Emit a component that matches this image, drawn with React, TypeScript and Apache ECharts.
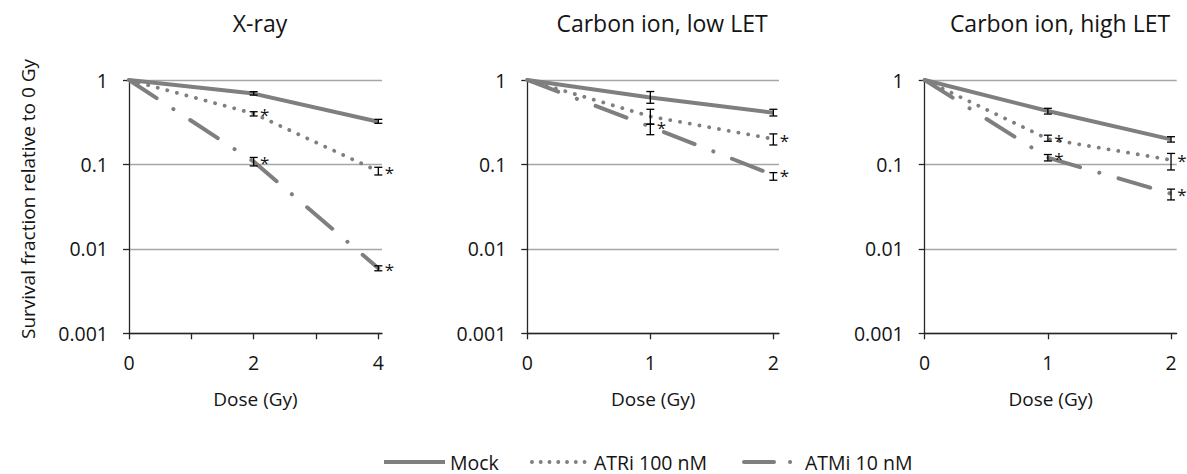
import React, { useEffect, useRef } from "react";
import * as echarts from "echarts";

// ---------- data ----------
const panelTitles = ["X-ray", "Carbon ion, low LET", "Carbon ion, high LET"];
const seriesNames = ["Mock", "ATRi 100 nM", "ATMi 10 nM"];
const yTickLabels = ["0.001", "0.01", "0.1", "1"];
const xAxisTitle = "Dose (Gy)";
const yAxisTitle = "Survival fraction relative to 0 Gy";

// X-ray
const xrayDoses = [0, 2, 4];
const xrayTicks = [0, 1, 2, 3, 4];
const xrayLabels = [0, 2, 4];
const xrayMock = [1, 0.69, 0.32];
const xrayMockLow = [null, 0.663, 0.307];
const xrayMockHigh = [null, 0.727, 0.342];
const xrayAtri = [1, 0.4, 0.083];
const xrayAtriLow = [null, 0.375, 0.075];
const xrayAtriHigh = [null, 0.421, 0.0925];
const xrayAtriSig = [false, true, true];
const xrayAtmi = [1, 0.108, 0.0059];
const xrayAtmiLow = [null, 0.096, 0.0055];
const xrayAtmiHigh = [null, 0.121, 0.0063];
const xrayAtmiSig = [false, true, true];

// Carbon ion, low LET
const lowDoses = [0, 1, 2];
const lowTicks = [0, 1, 2];
const lowLabels = [0, 1, 2];
const lowMock = [1, 0.62, 0.41];
const lowMockLow = [null, 0.53, 0.375];
const lowMockHigh = [null, 0.73, 0.45];
const lowAtri = [1, 0.37, 0.2];
const lowAtriLow = [null, 0.3, 0.17];
const lowAtriHigh = [null, 0.45, 0.23];
const lowAtriSig = [false, false, true];
const lowAtmi = [1, 0.28, 0.075];
const lowAtmiLow = [null, 0.225, 0.065];
const lowAtmiHigh = [null, 0.3, 0.08];
const lowAtmiSig = [false, true, true];

// Carbon ion, high LET
const highDoses = [0, 1, 2];
const highTicks = [0, 1, 2];
const highLabels = [0, 1, 2];
const highMock = [1, 0.43, 0.198];
const highMockLow = [null, 0.395, 0.184];
const highMockHigh = [null, 0.462, 0.213];
const highAtri = [1, 0.2, 0.113];
const highAtriLow = [null, 0.188, 0.086];
const highAtriHigh = [null, 0.222, 0.135];
const highAtriSig = [false, true, true];
const highAtmi = [1, 0.12, 0.045];
const highAtmiLow = [null, 0.11, 0.038];
const highAtmiHigh = [null, 0.131, 0.051];
const highAtmiSig = [false, true, true];

// ---------- layout / styles ----------
const FONT = "'Open Sans', 'Noto Sans', sans-serif";
const TEXT = "#141414";
const AXIS = "#262626";
const GRAY = "#7f7f7f";

const panels = [
  {
    title: panelTitles[0], titleX: 260,
    doses: xrayDoses, ticks: xrayTicks, labels: xrayLabels, xMax: 4.059,
    grid: { left: 129, top: 80, width: 253, height: 253.3 },
    series: [
      { v: xrayMock, lo: xrayMockLow, hi: xrayMockHigh, sig: null },
      { v: xrayAtri, lo: xrayAtriLow, hi: xrayAtriHigh, sig: xrayAtriSig },
      { v: xrayAtmi, lo: xrayAtmiLow, hi: xrayAtmiHigh, sig: xrayAtmiSig },
    ],
  },
  {
    title: panelTitles[1], titleX: 662,
    doses: lowDoses, ticks: lowTicks, labels: lowLabels, xMax: 2.046,
    grid: { left: 527.3, top: 80, width: 251.7, height: 253.3 },
    series: [
      { v: lowMock, lo: lowMockLow, hi: lowMockHigh, sig: null },
      { v: lowAtri, lo: lowAtriLow, hi: lowAtriHigh, sig: lowAtriSig },
      { v: lowAtmi, lo: lowAtmiLow, hi: lowAtmiHigh, sig: lowAtmiSig },
    ],
  },
  {
    title: panelTitles[2], titleX: 1060,
    doses: highDoses, ticks: highTicks, labels: highLabels, xMax: 2.046,
    grid: { left: 924.7, top: 80, width: 252, height: 253.3 },
    series: [
      { v: highMock, lo: highMockLow, hi: highMockHigh, sig: null },
      { v: highAtri, lo: highAtriLow, hi: highAtriHigh, sig: highAtriSig },
      { v: highAtmi, lo: highAtmiLow, hi: highAtmiHigh, sig: highAtmiSig },
    ],
  },
];

const lineStyles: any[] = [
  { color: GRAY, width: 4, type: "solid", cap: "butt" },
  { color: GRAY, width: 3.8, type: [0.1, 9.8], cap: "round" },
  { color: GRAY, width: 4, type: [33, 20, 0.1, 20], cap: "round" },
];

function buildOption() {
  const grid: any[] = [];
  const xAxis: any[] = [];
  const yAxis: any[] = [];
  const series: any[] = [];
  const title: any[] = [];

  panels.forEach((p, i) => {
    grid.push({ ...p.grid, containLabel: false, outerBoundsMode: "none" });
    title.push({
      text: p.title,
      left: p.titleX,
      top: 11,
      padding: 0,
      textAlign: "center",
      textStyle: { fontFamily: FONT, fontSize: 23, fontWeight: "normal", color: TEXT },
    });
    xAxis.push({
      type: "value",
      gridIndex: i,
      min: 0,
      max: p.xMax,
      axisLine: { show: true, lineStyle: { color: AXIS, width: 1.3 } },
      axisTick: { show: true, length: 6, customValues: p.ticks, lineStyle: { color: AXIS, width: 1.3 } },
      axisLabel: {
        customValues: p.labels,
        margin: 19,
        fontSize: 19.5,
        fontFamily: FONT,
        color: TEXT,
        formatter: (v: number) => String(v),
      },
      splitLine: { show: false },
      name: xAxisTitle,
      nameLocation: "middle",
      nameGap: 56,
      nameTextStyle: { fontFamily: FONT, fontSize: 19, color: TEXT },
    });
    yAxis.push({
      type: "log",
      logBase: 10,
      gridIndex: i,
      min: 0.001,
      max: 1,
      axisLine: { show: true, lineStyle: { color: AXIS, width: 1.3 } },
      axisTick: { show: true, length: 6, lineStyle: { color: AXIS, width: 1.3 } },
      axisLabel: {
        margin: 21,
        fontSize: 19.5,
        fontFamily: FONT,
        color: TEXT,
        formatter: (v: number) => yTickLabels[Math.round(Math.log10(v)) + 3] ?? "",
      },
      splitLine: { show: true, lineStyle: { color: "#a6a6a6", width: 1.3 } },
    });

    const errData: any[] = [];
    const sigData: any[] = [];
    p.series.forEach((s, k) => {
      series.push({
        type: "line",
        name: seriesNames[k],
        xAxisIndex: i,
        yAxisIndex: i,
        symbol: "none",
        showSymbol: false,
        color: GRAY,
        lineStyle: lineStyles[k],
        data: p.doses.map((d, j) => [d, s.v[j]]),
        z: 2,
      });
      p.doses.forEach((d, j) => {
        if (s.lo[j] != null && s.hi[j] != null) errData.push([d, s.lo[j], s.hi[j]]);
        if (s.sig && s.sig[j]) sigData.push([d, s.v[j]]);
      });
    });

    series.push({
      type: "custom",
      name: "err" + i,
      xAxisIndex: i,
      yAxisIndex: i,
      clip: false,
      z: 5,
      data: errData,
      renderItem: (params: any, api: any) => {
        const x = api.value(0);
        const lo = api.coord([x, api.value(1)]);
        const hi = api.coord([x, api.value(2)]);
        const w = 4;
        const st = { stroke: "#000", lineWidth: 1.3 };
        return {
          type: "group",
          children: [
            { type: "line", shape: { x1: lo[0], y1: lo[1], x2: hi[0], y2: hi[1] }, style: st },
            { type: "line", shape: { x1: lo[0] - w, y1: lo[1], x2: lo[0] + w, y2: lo[1] }, style: st },
            { type: "line", shape: { x1: hi[0] - w, y1: hi[1], x2: hi[0] + w, y2: hi[1] }, style: st },
          ],
        };
      },
    });

    series.push({
      type: "custom",
      name: "sig" + i,
      xAxisIndex: i,
      yAxisIndex: i,
      clip: false,
      z: 6,
      data: sigData,
      renderItem: (params: any, api: any) => {
        const pt = api.coord([api.value(0), api.value(1)]);
        return {
          type: "text",
          x: pt[0] + 11,
          y: pt[1] + 1,
          style: {
            text: "*",
            fontSize: 17,
            lineHeight: 12,
            fontFamily: FONT,
            fill: TEXT,
            align: "center",
            verticalAlign: "middle",
          },
        };
      },
    });
  });

  const legendBase = {
    orient: "horizontal",
    top: 452,
    padding: 0,
    itemHeight: 12,
    itemStyle: { opacity: 0, color: "rgba(0,0,0,0)", borderWidth: 0 },
    textStyle: { fontFamily: FONT, fontSize: 19.5, lineHeight: 19, color: TEXT },
  };

  const legend = [
    { ...legendBase, left: 382, itemWidth: 61, data: [seriesNames[0]], lineStyle: { width: 4, type: "solid", cap: "butt", color: GRAY } },
    { ...legendBase, left: 530, itemWidth: 57, data: [seriesNames[1]], lineStyle: { width: 3.8, type: [0.1, 8.67], cap: "round", color: GRAY } },
    { ...legendBase, left: 742, itemWidth: 56, data: [seriesNames[2]], lineStyle: { width: 4, type: [30, 16, 0.1, 30], cap: "round", color: GRAY } },
  ];

  return {
    animation: false,
    backgroundColor: "#ffffff",
    title,
    grid,
    xAxis,
    yAxis,
    series,
    legend,
    graphic: [
      {
        type: "text",
        x: 28,
        y: 199,
        rotation: Math.PI / 2,
        style: {
          text: yAxisTitle,
          fontSize: 19,
          fontFamily: FONT,
          fill: TEXT,
          align: "center",
          verticalAlign: "middle",
        },
      },
    ],
  };
}

export default function App() {
  const ref = useRef<HTMLDivElement>(null);
  useEffect(() => {
    if (!ref.current) return;
    const chart = echarts.init(ref.current, undefined, { renderer: "svg" });
    chart.setOption(buildOption() as any);
    return () => chart.dispose();
  }, []);
  return (
    <div
      ref={ref}
      style={{ position: "absolute", left: 0, top: 0, width: "1187px", height: "474px", background: "#fff" }}
    />
  );
}
